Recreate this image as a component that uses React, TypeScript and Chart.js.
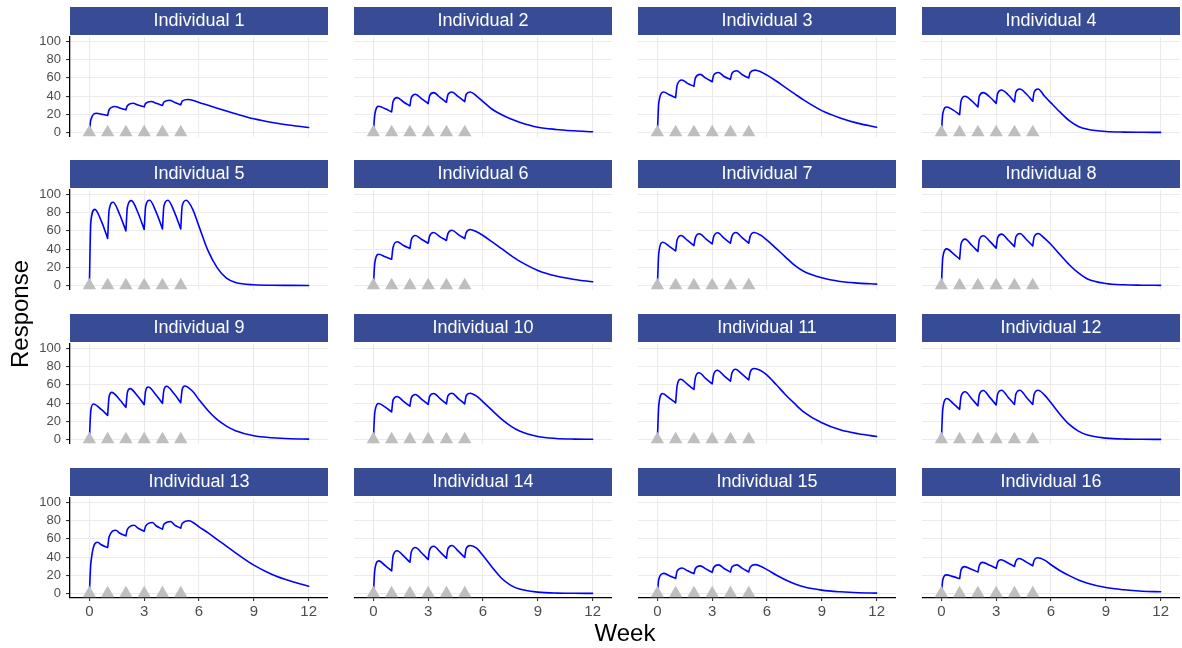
import React, { useEffect, useRef } from 'react';
import { Chart, registerables } from 'chart.js';

Chart.register(...registerables);

// ---------------- data ----------------
const INDIVIDUALS = Array.from({ length: 16 }, (_, i) => `Individual ${i + 1}`);
const DOSE_WEEKS = [0, 1, 2, 3, 4, 5];
const TAIL_WEEKS = [5.65, 6, 6.5, 7, 7.5, 8, 9, 10, 11, 12];
const X_TICKS = [0, 3, 6, 9, 12];
const Y_TICKS = [0, 20, 40, 60, 80, 100];
const RISE_OFFSET = 0.08;
const MID_OFFSET = 0.65;

// time (weeks after each dose) of the peak, per individual
const PEAK_OFFSET = [0.4, 0.3, 0.34, 0.29, 0.3, 0.3, 0.3, 0.3, 0.22, 0.3, 0.28, 0.3, 0.45, 0.3, 0.35, 0.26];

// value at each dose time (pre-dose trough)
const TROUGH = [
  [0, 18.7, 24.9, 28.2, 29.7, 30.4],
  [0, 22.6, 29.2, 31.8, 33.2, 34],
  [0, 38.3, 50.7, 55.8, 58.4, 59.9],
  [0, 19.7, 28, 32, 33.6, 34.3],
  [0, 51.8, 60, 61.5, 62.2, 62.2],
  [0, 28.9, 40.7, 46.5, 49.5, 51.6],
  [0, 38, 43.9, 45.8, 46.5, 46.5],
  [0, 29, 37.3, 41, 42.7, 43.5],
  [0, 26.5, 35.3, 38.2, 39.7, 40.4],
  [0, 30.4, 36.6, 38.5, 39.2, 39.2],
  [0, 40.3, 55, 61.2, 64.1, 65.6],
  [0, 33, 37, 38, 38.5, 38.5],
  [0, 50.5, 63.4, 68.5, 70.7, 71.8],
  [0, 24.7, 34.3, 37.3, 38.7, 39.5],
  [0, 16.6, 21.8, 23.2, 23.6, 23.6],
  [0, 16.4, 23.6, 27.6, 29.8, 30.5],
];

// value shortly after each dose (rising)
const RISE = [
  [14, 25, 29.5, 32, 33.5, 34.5],
  [20, 34, 38.5, 40.5, 41.5, 42],
  [33, 52, 60, 63, 65, 66],
  [21, 35, 40, 43, 44.5, 44.5],
  [70, 83, 86, 87, 87.5, 87.5],
  [25, 42, 50.5, 54.5, 57, 58],
  [36, 50, 52.5, 53.5, 54, 54],
  [31, 46, 50.5, 52.5, 53.5, 53.5],
  [32, 47, 51.5, 53.5, 54.5, 55],
  [30, 43.5, 46, 47.5, 48, 48],
  [38, 59, 68, 71.5, 73, 74],
  [34, 47.5, 49.5, 50, 50, 50],
  [33, 62, 70.5, 74, 76, 77],
  [26, 41.5, 46, 48, 49, 49.5],
  [16, 24.5, 27.5, 28.5, 29, 29],
  [15, 26, 31, 34, 35.5, 36.5],
];

// peak after each dose
const PEAK = [
  [21.2, 28.6, 32.2, 34, 35.5, 36.3],
  [28.8, 38.3, 42, 43.8, 44.5, 44.5],
  [44.5, 57.7, 63.9, 66, 67.9, 68.6],
  [28, 39.8, 43.8, 46.7, 47.8, 47.8],
  [83.7, 91.5, 93.3, 93.7, 93.7, 93.7],
  [34.4, 48, 55, 58.2, 60.8, 61.5],
  [47.6, 55, 56.8, 57.9, 58.2, 58.2],
  [40.2, 51, 54.7, 56.5, 57.2, 57.2],
  [39, 51.8, 55.9, 57.7, 58.5, 58.8],
  [39.6, 47.3, 49.5, 50.5, 50.9, 50.9],
  [50.5, 66.3, 73.3, 76.2, 77.3, 78],
  [45, 52.4, 53.8, 54.2, 54.2, 54.2],
  [56.4, 69.6, 75.1, 78, 79.1, 79.9],
  [35.8, 46.9, 50.6, 52, 52.8, 52.8],
  [22.1, 28, 30.3, 31.4, 31.4, 31.7],
  [20.4, 29.5, 34.2, 37.1, 38.5, 39.3],
];

// value mid-way through the decay between doses 1..5
const MID = [
  [20, 27, 30.2, 32, 33.2],
  [26, 33.5, 37, 38.5, 39.3],
  [41.5, 54, 59.7, 61.5, 63.5],
  [24.5, 35, 39, 41.5, 42.3],
  [71, 78.5, 80.5, 81, 81],
  [31.5, 44, 50.5, 53.5, 56],
  [43, 49.5, 51.3, 52, 52.4],
  [35, 44.5, 48.5, 50, 50.5],
  [33, 44, 47.5, 49, 50],
  [35.5, 42, 44, 45, 45],
  [45.5, 60.5, 67, 70, 71.5],
  [39.5, 45, 46.3, 46.5, 46.5],
  [53.5, 66.5, 72, 74.5, 75.5],
  [30.5, 41.3, 44.5, 45.8, 46.5],
  [19.5, 25, 27, 27.5, 27.6],
  [18.5, 26.5, 31, 33.5, 34.5],
];

// washout after the last dose, at TAIL_WEEKS
const TAIL = [
  [35.5, 33, 30, 26.7, 23.5, 20.5, 15, 11, 8, 5.5],
  [40, 34, 25.5, 19.7, 15, 11.3, 5.8, 3.3, 1.8, 0.7],
  [66.8, 63, 56.6, 49.6, 42.7, 35.8, 24, 16, 10, 5.8],
  [39.8, 32.5, 22.3, 13, 6.6, 3.6, 1.1, 0.4, 0.2, 0.1],
  [84, 65, 38, 19.3, 8, 3.3, 0.7, 0.2, 0.1, 0],
  [59, 55, 48, 40.7, 33.3, 26.7, 16.5, 10.3, 6.6, 4],
  [55.3, 49.8, 40.7, 31.5, 22.3, 15.7, 8.4, 4.4, 2.6, 1.5],
  [51.7, 45, 33.7, 22.8, 13.8, 7.2, 2.2, 0.7, 0.3, 0.1],
  [53, 43.8, 31.6, 21.7, 14.7, 9.6, 4, 1.8, 0.7, 0.4],
  [47.6, 41.4, 31.9, 22.7, 15, 9.2, 3.3, 1.1, 0.4, 0.2],
  [75.8, 70.7, 60.4, 49.5, 39.6, 30.4, 18.3, 10.6, 6.2, 3.3],
  [48.7, 40.3, 27.5, 16.5, 9.2, 4.8, 1.5, 0.4, 0.2, 0.1],
  [78.4, 73.3, 66.7, 59.3, 52, 44.7, 31.1, 20.9, 13.6, 8],
  [49.8, 41.7, 28.8, 17, 9.2, 4.8, 1.5, 0.4, 0.2, 0.1],
  [29.9, 26.2, 20.3, 15.1, 10.7, 7.4, 3.7, 1.8, 0.7, 0.4],
  [36.7, 31.6, 25, 19.6, 14.9, 11.3, 6.5, 4, 2.5, 1.8],
];

// ---------------- layout ----------------
const FONT = '"Liberation Sans", Arial, Helvetica, sans-serif';
const STRIP_COLOR = '#384b95';
const ROW_TOPS = [7, 160, 314, 468];
const COL_LEFT0 = 70;
const COL_STEP = 284;
const PLOT_W = 258;
const TITLE_H = 30;
const STRIP_H = 28;
const PLOT_H = 100;
const Y_AXIS_W = 40;

function buildLine(i: number) {
  const pts: { x: number; y: number | null }[] = [];
  DOSE_WEEKS.forEach((w, k) => {
    pts.push({ x: w, y: TROUGH[i][k] });
    pts.push({ x: w + RISE_OFFSET, y: RISE[i][k] });
    pts.push({ x: w + PEAK_OFFSET[i], y: PEAK[i][k] });
    if (k < DOSE_WEEKS.length - 1) {
      pts.push({ x: w + MID_OFFSET, y: MID[i][k] });
      pts.push({ x: DOSE_WEEKS[k + 1], y: TROUGH[i][k + 1] });
      pts.push({ x: DOSE_WEEKS[k + 1], y: null });
    } else {
      TAIL_WEEKS.forEach((t, j) => pts.push({ x: t, y: TAIL[i][j] }));
    }
  });
  return pts;
}

const stripPlugin = {
  id: 'stripBg',
  beforeDraw(chart: any) {
    const { ctx, chartArea } = chart;
    ctx.save();
    ctx.fillStyle = STRIP_COLOR;
    ctx.fillRect(chartArea.left, 0, chartArea.right - chartArea.left, STRIP_H);
    ctx.restore();
  },
};

function Panel({ index }: { index: number }) {
  const ref = useRef<HTMLCanvasElement | null>(null);
  const r = Math.floor(index / 4);
  const c = index % 4;
  const isLeft = c === 0;
  const isBottom = r === 3;
  const yW = isLeft ? Y_AXIS_W : 0;
  const xH = isBottom ? 26 : 14;
  const plotLeft = COL_LEFT0 + COL_STEP * c;
  const left = plotLeft - yW;
  const top = ROW_TOPS[r];
  const width = yW + PLOT_W;
  const height = TITLE_H + PLOT_H + xH;

  useEffect(() => {
    if (!ref.current) return;
    const chart = new Chart(ref.current, {
      type: 'line',
      data: {
        datasets: [
          {
            data: DOSE_WEEKS.map((w) => ({ x: w, y: 0 })),
            showLine: false,
            pointStyle: 'triangle',
            pointRadius: 7.7,
            pointHoverRadius: 7.7,
            pointBackgroundColor: '#bebebe',
            pointBorderWidth: 0,
            pointBorderColor: 'rgba(0,0,0,0)',
            clip: false,
            order: 0,
          },
          {
            data: buildLine(index),
            borderColor: '#0000ff',
            borderWidth: 1.6,
            pointRadius: 0,
            pointHoverRadius: 0,
            cubicInterpolationMode: 'monotone',
            borderCapStyle: 'round',
            borderJoinStyle: 'round',
            spanGaps: false,
            fill: false,
            order: 1,
          },
        ],
      } as any,
      options: {
        animation: false,
        responsive: false,
        devicePixelRatio: 1,
        events: [],
        layout: { padding: 0, autoPadding: false },
        plugins: {
          legend: { display: false },
          tooltip: { enabled: false },
          title: {
            display: true,
            text: INDIVIDUALS[index],
            fullSize: false,
            color: '#ffffff',
            font: { family: FONT, size: 18, lineHeight: 1.2, weight: 'normal' },
            padding: { top: 3.2, bottom: 5.2 },
          },
        },
        scales: {
          x: {
            type: 'linear',
            min: -1.06,
            max: 13.06,
            afterBuildTicks: (s: any) => {
              s.ticks = X_TICKS.map((v) => ({ value: v }));
            },
            afterFit: (s: any) => {
              s.height = xH;
            },
            grid: {
              color: '#ebebeb',
              lineWidth: 1.1,
              drawTicks: isBottom,
              tickLength: 3,
              tickColor: '#333333',
              tickWidth: 1.1,
            },
            border: { display: isBottom, color: '#000000', width: 1.3 },
            ticks: {
              display: isBottom,
              color: '#4d4d4d',
              font: { family: FONT, size: 15 },
              padding: 2,
              maxRotation: 0,
              autoSkip: false,
            },
          },
          y: {
            type: 'linear',
            min: -5,
            max: 105,
            afterBuildTicks: (s: any) => {
              s.ticks = Y_TICKS.map((v) => ({ value: v }));
            },
            afterFit: (s: any) => {
              s.width = yW;
            },
            grid: {
              color: '#ebebeb',
              lineWidth: 1.1,
              drawTicks: isLeft,
              tickLength: 4,
              tickColor: '#333333',
              tickWidth: 1.1,
            },
            border: { display: isLeft, color: '#000000', width: 1.3 },
            ticks: {
              display: isLeft,
              color: '#4d4d4d',
              font: { family: FONT, size: 13 },
              padding: 5,
              autoSkip: false,
            },
          },
        },
      } as any,
      plugins: [stripPlugin],
    });
    return () => chart.destroy();
  }, []);

  return (
    <canvas
      ref={ref}
      width={width}
      height={height}
      style={{ position: 'absolute', left, top, width, height }}
    />
  );
}

export default function App() {
  return (
    <div
      style={{
        position: 'fixed',
        left: 0,
        top: 0,
        width: 1182,
        height: 648,
        background: '#ffffff',
        overflow: 'hidden',
        fontFamily: FONT,
      }}
    >
      {INDIVIDUALS.map((_, i) => (
        <Panel key={i} index={i} />
      ))}
      <div
        style={{
          position: 'absolute',
          left: 525,
          top: 619,
          width: 200,
          height: 28,
          lineHeight: '28px',
          textAlign: 'center',
          fontSize: 24,
          color: '#000',
        }}
      >
        Week
      </div>
      <div
        style={{
          position: 'absolute',
          left: -80,
          top: 300,
          width: 200,
          height: 28,
          lineHeight: '28px',
          textAlign: 'center',
          fontSize: 24,
          color: '#000',
          transform: 'rotate(-90deg)',
        }}
      >
        Response
      </div>
    </div>
  );
}
